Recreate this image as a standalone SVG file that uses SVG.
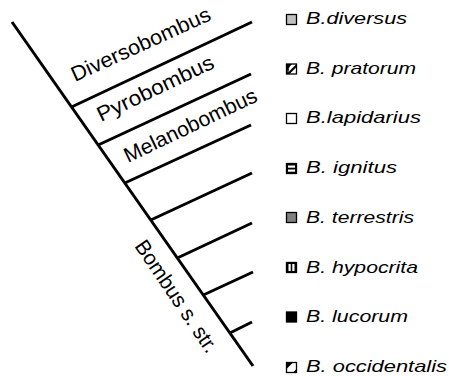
<svg xmlns="http://www.w3.org/2000/svg" width="449" height="376" viewBox="0 0 449 376">
<style>
.ln{stroke:#000;stroke-width:3;stroke-linecap:butt;fill:none}
.sp{font-family:"Liberation Sans",Arial,sans-serif;font-style:italic;font-size:16.5px;fill:#000}
.cl{font-family:"Liberation Sans",Arial,sans-serif;font-size:21px;fill:#000}
.bx{stroke:#000;stroke-width:1.3}
</style>
<rect width="449" height="376" fill="#fff"/>
<g id="connectors">
<line class="ln" x1="12" y1="22" x2="253" y2="366"/>
<line class="ln" x1="71.5" y1="107" x2="252" y2="22"/>
<line class="ln" x1="98.2" y1="145" x2="251" y2="74"/>
<line class="ln" x1="124.8" y1="183" x2="251" y2="125"/>
<line class="ln" x1="150.8" y1="220" x2="252" y2="173"/>
<line class="ln" x1="177.3" y1="258" x2="252" y2="223"/>
<line class="ln" x1="203.3" y1="295" x2="253" y2="272"/>
<line class="ln" x1="229.9" y1="333" x2="252" y2="322"/>
</g>
<g id="clade-diversobombus"><text class="cl" transform="translate(75,82) rotate(-24.5)" textLength="151" lengthAdjust="spacingAndGlyphs">Diversobombus</text></g>
<g id="clade-pyrobombus"><text class="cl" transform="translate(101,122) rotate(-25.5)" textLength="127" lengthAdjust="spacingAndGlyphs">Pyrobombus</text></g>
<g id="clade-melanobombus"><text class="cl" transform="translate(128,163) rotate(-25.5)" textLength="145" lengthAdjust="spacingAndGlyphs">Melanobombus</text></g>
<g id="clade-bombus"><text class="cl" transform="translate(134,246) rotate(56)" textLength="131" lengthAdjust="spacingAndGlyphs">Bombus s. str.</text></g>

<g id="sp-diversus">
<rect class="bx" x="286.5" y="14.5" width="10" height="10" fill="#c0c0c0"/>
<text class="sp" x="306" y="24" textLength="101" lengthAdjust="spacingAndGlyphs">B.diversus</text>
</g>
<g id="sp-pratorum">
<rect class="bx" x="286.5" y="64" width="10" height="10" fill="#fff"/>
<polygon points="286.5,74 286.5,64 290,64 286.5,74" fill="#000"/>
<polygon points="286.5,74 290,64 288,74" fill="#000"/>
<polygon points="286.5,74 296.5,64 296.5,67 289.5,74" fill="#000"/>
<polygon points="286.5,64 292,64 286.5,70" fill="#000"/>
<text class="sp" x="306" y="73.5" textLength="110" lengthAdjust="spacingAndGlyphs">B. pratorum</text>
</g>
<g id="sp-lapidarius">
<rect class="bx" x="286.5" y="113.5" width="10" height="10" fill="#fff"/>
<text class="sp" x="306" y="123" textLength="115" lengthAdjust="spacingAndGlyphs">B.lapidarius</text>
</g>
<g id="sp-ignitus">
<rect class="bx" x="286.5" y="163.5" width="10" height="10" fill="#000"/>
<rect x="288" y="165.5" width="7" height="2.2" fill="#fff"/>
<rect x="288" y="169.5" width="7" height="2.2" fill="#fff"/>
<text class="sp" x="306" y="173" textLength="91" lengthAdjust="spacingAndGlyphs">B. ignitus</text>
</g>
<g id="sp-terrestris">
<rect class="bx" x="286.5" y="212.5" width="10" height="10" fill="#808080"/>
<text class="sp" x="306" y="222.5" textLength="108" lengthAdjust="spacingAndGlyphs">B. terrestris</text>
</g>
<g id="sp-hypocrita">
<rect class="bx" x="286.5" y="262.5" width="10" height="10" fill="#000"/>
<rect x="288.5" y="264" width="2.2" height="7" fill="#fff"/>
<rect x="292.3" y="264" width="2.2" height="7" fill="#fff"/>
<text class="sp" x="306" y="272.5" textLength="112" lengthAdjust="spacingAndGlyphs">B. hypocrita</text>
</g>
<g id="sp-lucorum">
<rect class="bx" x="286.5" y="312" width="10" height="10" fill="#000"/>
<text class="sp" x="306" y="322" textLength="102" lengthAdjust="spacingAndGlyphs">B. lucorum</text>
</g>
<g id="sp-occidentalis">
<rect class="bx" x="286.5" y="362.5" width="10" height="10" fill="#fff"/>
<polygon points="286.5,362.5 293,362.5 286.5,369" fill="#000"/>
<polygon points="296.5,372.5 293,372.5 296.5,369" fill="#000"/>
<text class="sp" x="306" y="372" textLength="141" lengthAdjust="spacingAndGlyphs">B. occidentalis</text>
</g>
</svg>
